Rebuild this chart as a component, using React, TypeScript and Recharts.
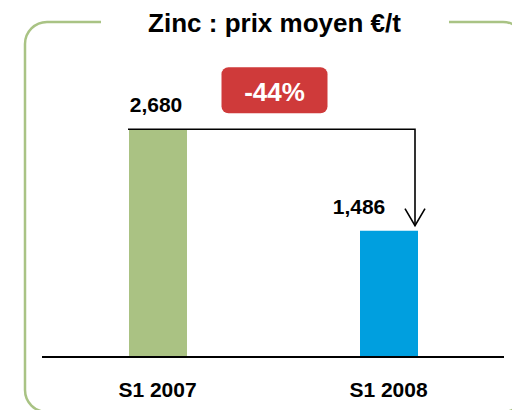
import { BarChart, Bar, XAxis, YAxis, Cell, LabelList, ReferenceLine } from "recharts";

// Zinc average price, EUR per tonne
const periods = ["S1 2007", "S1 2008"];
const prices = [2680, 1486];
const barColors = ["#aac283", "#009fdf"];
const changeLabel = "-44%";
const title = "Zinc : prix moyen €/t";

const data = periods.map((name, i) => ({ name, price: prices[i] }));

const FONT = "Arial, 'Liberation Sans', sans-serif";

// value label above each bar (second one shifted left to clear the arrow)
const renderValue = (props: any) => {
  const { x, y, width, value, index } = props;
  const shift = index === 1 ? -30 : -2;
  return (
    <text
      x={x + width / 2 + shift}
      y={y - 17}
      textAnchor="middle"
      fontFamily={FONT}
      fontWeight="bold"
      fontSize={21}
      fill="#000"
    >
      {Number(value).toLocaleString("en-US")}
    </text>
  );
};

// drop arrow from the 2007 level down to the 2008 bar, with the red badge
const renderArrow = (props: any) => {
  const { x1, y1, x2, y2 } = props;
  const startX = x1 - 29.5;
  const endX = x2 + 26.5;
  const tipY = y2 - 5;
  const midX = (startX + endX) / 2 + 3;
  return (
    <g>
      <path
        d={`M${startX},${y1} H${endX} V${tipY}`}
        fill="none"
        stroke="#000"
        strokeWidth={1.6}
      />
      <path
        d={`M${endX - 10},${tipY - 17} L${endX},${tipY} L${endX + 10},${tipY - 17}`}
        fill="none"
        stroke="#000"
        strokeWidth={1.6}
      />
      <rect x={midX - 53} y={y1 - 62} width={106} height={46} rx={7} fill="#cf3a3a" />
      <text
        x={midX}
        y={y1 - 28}
        textAnchor="middle"
        fontFamily={FONT}
        fontWeight="bold"
        fontSize={26}
        fill="#fff"
      >
        {changeLabel}
      </text>
    </g>
  );
};

export default function App() {
  return (
    <div
      style={{
        position: "absolute",
        left: 0,
        top: 0,
        width: 512,
        height: 410,
        overflow: "hidden",
        background: "#fff",
      }}
    >
      <svg width={512} height={410} style={{ position: "absolute", left: 0, top: 0 }}>
        <rect x={25} y={22} width={500} height={390} rx={22} fill="none" stroke="#a9c384" strokeWidth={2.5} />
        <rect x={101} y={12} width={348} height={20} fill="#fff" />
        <text
          x={274.5}
          y={32}
          textAnchor="middle"
          fontFamily={FONT}
          fontWeight="bold"
          fontSize={26}
          fill="#000"
        >
          {title}
        </text>
      </svg>
      <div style={{ position: "absolute", left: 0, top: 0 }}>
        <BarChart
          width={512}
          height={410}
          data={data}
          margin={{ top: 102, right: 8, left: 42, bottom: 23 }}
        >
          <XAxis
            dataKey="name"
            height={30}
            axisLine={{ stroke: "#000", strokeWidth: 2 }}
            tickLine={false}
            tickSize={0}
            tickMargin={25}
            tick={{ fill: "#000", fontSize: 21, fontWeight: "bold", fontFamily: FONT }}
          />
          <YAxis hide domain={[0, 3000]} />
          <Bar dataKey="price" barSize={58} isAnimationActive={false}>
            {data.map((d, i) => (
              <Cell key={d.name} fill={barColors[i]} />
            ))}
            <LabelList dataKey="price" content={renderValue} />
          </Bar>
          <ReferenceLine
            segment={[
              { x: periods[0], y: prices[0] },
              { x: periods[1], y: prices[1] },
            ]}
            ifOverflow="visible"
            shape={renderArrow}
          />
        </BarChart>
      </div>
    </div>
  );
}
